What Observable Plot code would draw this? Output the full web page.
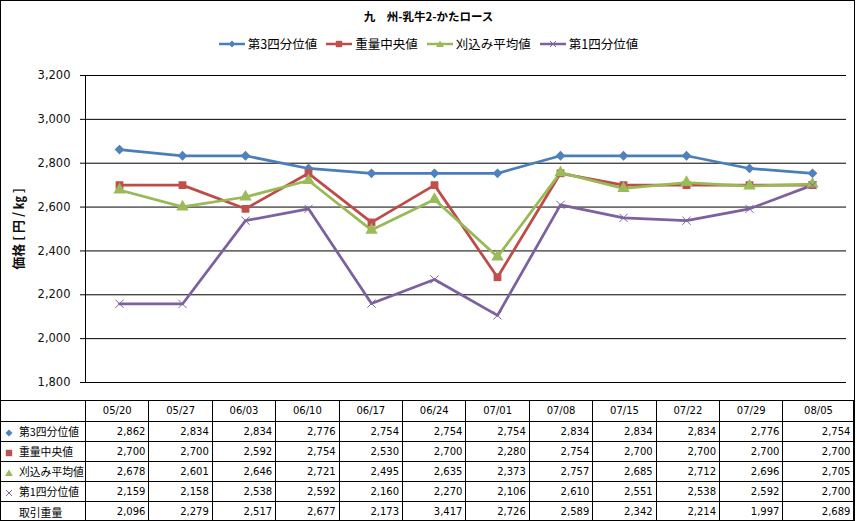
<!DOCTYPE html>
<html><head><meta charset="utf-8">
<script src="https://cdn.jsdelivr.net/npm/d3@7"></script>
<script src="https://cdn.jsdelivr.net/npm/@observablehq/plot@0.6"></script>
<style>
html,body{margin:0;padding:0;background:#fff;}
#wrap{position:relative;width:857px;height:521px;overflow:hidden;font-family:"DejaVu Sans","Noto Sans CJK JP",sans-serif;color:#000;background:#fff;}
#frame{position:absolute;left:0;top:0;width:855px;height:521px;border:1px solid #000;box-sizing:border-box;pointer-events:none;}
#title{position:absolute;top:8px;left:0;width:857px;text-align:center;font-weight:bold;font-size:11.5px;font-family:"Noto Sans CJK JP",sans-serif;line-height:16px;}
#legend{position:absolute;top:36px;left:0;width:857px;display:flex;justify-content:center;gap:9px;font-size:12.5px;font-family:"Noto Sans CJK JP",sans-serif;line-height:16px;}
#legend .item{display:flex;align-items:center;gap:3px;}
#chart{position:absolute;left:0;top:60px;}
#chart g[aria-label="y-axis label"] text{font-weight:bold;font-size:13px;font-family:"Noto Sans CJK JP",sans-serif;}
#tbl{position:absolute;left:0;top:400px;border-collapse:collapse;table-layout:fixed;width:854px;}
#tbl td{border:1px solid #000;padding:0;overflow:hidden;white-space:nowrap;font-size:10px;line-height:12px;}
#tbl tr.head td{height:20px;text-align:center;}
#tbl tr.body td{height:19px;text-align:right;padding-right:3px;}
#tbl tr.body td.lab{text-align:left;padding-left:4px;padding-right:0;font-family:"Noto Sans CJK JP",sans-serif;font-size:10.8px;overflow:visible;}
#tbl td.lab svg{display:inline-block;vertical-align:middle;margin-right:6px;position:relative;top:-1px;}
#tbl td.lab span.ic{display:inline-block;width:8px;margin-right:6px;}
</style>
</head>
<body>
<div id="wrap">
  <div id="title"></div>
  <div id="legend"></div>
  <div id="chart"></div>
  <table id="tbl"></table>
  <div id="frame"></div>
</div>
<script>
const title = "九\u3000州-乳牛2-かたロース";
const yLabel = "価格 [ 円 / ㎏ ]";
const dates = ["05/20","05/27","06/03","06/10","06/17","06/24","07/01","07/08","07/15","07/22","07/29","08/05"];
const seriesNames = ["第3四分位値","重量中央値","刈込み平均値","第1四分位値"];
const q3      = [2862,2834,2834,2776,2754,2754,2754,2834,2834,2834,2776,2754];
const median  = [2700,2700,2592,2754,2530,2700,2280,2754,2700,2700,2700,2700];
const trimmed = [2678,2601,2646,2721,2495,2635,2373,2757,2685,2712,2696,2705];
const q1      = [2159,2158,2538,2592,2160,2270,2106,2610,2551,2538,2592,2700];
const volumeName = "取引重量";
const volume  = [2096,2279,2517,2677,2173,3417,2726,2589,2342,2214,1997,2689];
const yTicks = [1800,2000,2200,2400,2600,2800,3000,3200];

const seriesValues = [q3, median, trimmed, q1];
const lineColors = ["#4A7EBB","#BE4B48","#98B954","#7D60A0"];
const markColors = ["#4F81BD","#C0504D","#9BBB59","#8064A2"];
const symbols = ["diamond2","square","triangle","times"];
const fmt = d3.format(",");

document.getElementById("title").textContent = title;

function icon(k, w, h, withLine) {
  const cx = w/2, cy = h/2;
  let s = `<svg width="${w}" height="${h}" viewBox="0 0 ${w} ${h}">`;
  if (withLine) s += `<line x1="0" x2="${w}" y1="${cy}" y2="${cy}" stroke="${lineColors[k]}" stroke-width="2.5"/>`;
  const r = 3.5;
  if (k === 0) s += `<path d="M${cx} ${cy-r}L${cx+r} ${cy}L${cx} ${cy+r}L${cx-r} ${cy}Z" fill="${markColors[k]}"/>`;
  if (k === 1) s += `<rect x="${cx-3.2}" y="${cy-3.2}" width="6.4" height="6.4" fill="${markColors[k]}"/>`;
  if (k === 2) s += `<path d="M${cx} ${cy-3.5}L${cx+4} ${cy+3}L${cx-4} ${cy+3}Z" fill="${markColors[k]}"/>`;
  if (k === 3) s += `<path d="M${cx-3} ${cy-3}L${cx+3} ${cy+3}M${cx+3} ${cy-3}L${cx-3} ${cy+3}" stroke="${markColors[k]}" stroke-width="1"/>`;
  return s + `</svg>`;
}

const legend = document.getElementById("legend");
seriesNames.forEach((name, k) => {
  const it = document.createElement("div");
  it.className = "item";
  it.innerHTML = icon(k, 26, 12, true) + `<span>${name}</span>`;
  legend.appendChild(it);
});

const rows = seriesNames.flatMap((name, k) => dates.map((d, i) => ({series: name, k, date: d, value: seriesValues[k][i]})));
const marks = [
  Plot.gridY(yTicks, {stroke: "#000", strokeOpacity: 1, strokeWidth: 1}),
  Plot.frame({anchor: "left", stroke: "#000"}),
  Plot.axisY(yTicks, {tickFormat: fmt, tickSize: 5, tickPadding: 10, fontSize: 11.5, fill: "#111",
    label: yLabel, labelAnchor: "center", labelOffset: 72, labelArrow: "none"})
];
seriesNames.forEach((name, k) => {
  const data = rows.filter(r => r.k === k);
  marks.push(Plot.line(data, {x: "date", y: "value", stroke: lineColors[k], strokeWidth: 2.75}));
});
seriesNames.forEach((name, k) => {
  const data = rows.filter(r => r.k === k);
  if (k === 3) {
    marks.push(Plot.dot(data, {x: "date", y: "value", symbol: "times", r: 3.8, stroke: markColors[k], strokeWidth: 1}));
  } else {
    marks.push(Plot.dot(data, {x: "date", y: "value", symbol: symbols[k], r: k === 2 ? 4.6 : 4.4, fill: markColors[k], stroke: "none"}));
  }
});

const chart = Plot.plot({
  width: 857, height: 340,
  marginLeft: 85, marginRight: 11, marginTop: 15, marginBottom: 18,
  style: {fontFamily: '"DejaVu Sans", "Noto Sans CJK JP", sans-serif', background: "transparent", color: "#000"},
  x: {type: "point", domain: dates, padding: 0.5, axis: null},
  y: {domain: [1800, 3200], axis: null},
  marks
});
document.getElementById("chart").appendChild(chart);

const tbl = document.getElementById("tbl");
let html = `<colgroup><col style="width:85px">` + dates.map((d, i) => `<col style="width:${i === dates.length - 1 ? 71 : 63.42}px">`).join("") + `</colgroup>`;
html += `<tr class="head"><td></td>` + dates.map(d => `<td>${d}</td>`).join("") + `</tr>`;
seriesNames.forEach((name, k) => {
  html += `<tr class="body"><td class="lab">${icon(k, 8, 8, false)}${name}</td>` + seriesValues[k].map(v => `<td>${fmt(v)}</td>`).join("") + `</tr>`;
});
html += `<tr class="body"><td class="lab"><span class="ic"></span>${volumeName}</td>` + volume.map(v => `<td>${fmt(v)}</td>`).join("") + `</tr>`;
tbl.innerHTML = html;
</script>
</body></html>
